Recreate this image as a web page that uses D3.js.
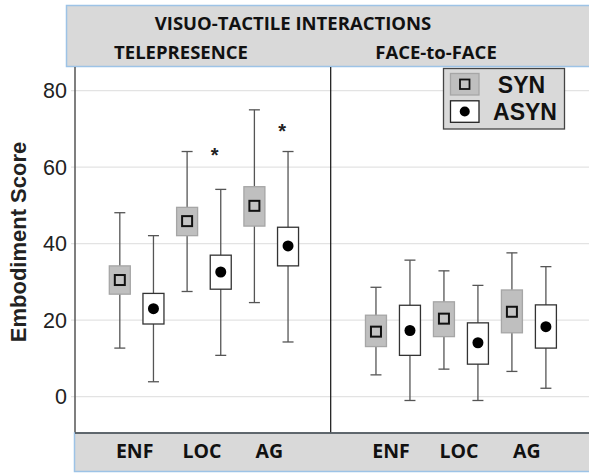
<!DOCTYPE html>
<html>
<head>
<meta charset="utf-8">
<script src="https://cdn.jsdelivr.net/npm/d3@7"></script>
<style>
  body { margin: 0; background: #fff; }
  svg { display: block; }
</style>
</head>
<body>
<div id="chart"></div>
<script>
var width = 589, height = 473;

// data
var panels = ["TELEPRESENCE", "FACE-to-FACE"];
var categories = ["ENF", "LOC", "AG"];
var series = ["SYN", "ASYN"];
var yTicks = [0, 20, 40, 60, 80];

// [low whisker, q1, median, q3, high whisker] for ENF, LOC, AG
var telSyn  = [[12.7, 26.8, 30.5, 34.2, 48.1], [27.5, 42.1, 45.9, 49.5, 64.1], [24.6, 44.6, 49.9, 54.9, 75.0]];
var telAsyn = [[3.9, 19.0, 23.0, 27.0, 42.1], [10.8, 28.1, 32.6, 37.0, 54.2], [14.3, 34.2, 39.4, 44.3, 64.1]];
var ftfSyn  = [[5.7, 13.1, 17.0, 21.3, 28.6], [7.2, 15.7, 20.4, 24.8, 32.9], [6.6, 16.7, 22.2, 27.9, 37.6]];
var ftfAsyn = [[-1.0, 10.8, 17.3, 23.9, 35.7], [-1.0, 8.5, 14.1, 19.3, 29.1], [2.2, 12.7, 18.3, 24.0, 34.0]];

// significance marks: panel index, category, y value
var sigPanel = [0, 0];
var sigCat = ["LOC", "AG"];
var sigValue = [63.7, 70.0];

var boxData = [];
[[telSyn, telAsyn], [ftfSyn, ftfAsyn]].forEach(function (p, pi) {
  p.forEach(function (arr, si) {
    arr.forEach(function (s, ci) {
      boxData.push({ panel: pi, series: series[si], cat: categories[ci],
        lo: s[0], q1: s[1], med: s[2], q3: s[3], hi: s[4] });
    });
  });
});

var plot = { left: 75, right: 589, top: 67, bottom: 433, divider: 330.7 };

var svg = d3.select("#chart").append("svg")
    .attr("width", width)
    .attr("height", height);

var y = d3.scaleLinear().domain([-9.5, 86.2]).range([plot.bottom, plot.top]);

var panelScale = [
  d3.scaleBand().domain(categories).range([plot.left, plot.divider]).paddingOuter(0.4).align(0.52),
  d3.scaleBand().domain(categories).range([plot.divider, plot.right]).paddingOuter(0.4).align(0.52)
];

function xPos(d) {
  var b = panelScale[d.panel];
  var inner = d3.scaleBand().domain(series).range([0, b.bandwidth()]);
  return b(d.cat) + inner(d.series) + inner.bandwidth() / 2;
}

// header box
svg.append("rect")
    .attr("x", 66.5).attr("y", 5.5)
    .attr("width", 540).attr("height", 61)
    .attr("fill", "#d9d9d9")
    .attr("stroke", "#9dc3e6").attr("stroke-width", 1.5);

svg.append("text")
    .attr("x", 293).attr("y", 29.5)
    .attr("text-anchor", "middle")
    .attr("font-family", "'Open Sans', sans-serif")
    .attr("font-weight", "bold").attr("font-size", 18.5)
    .attr("fill", "#111")
    .text("VISUO-TACTILE INTERACTIONS");

var panelLabelX = [181, 436];
svg.selectAll(".panel-label")
    .data(panels)
    .enter().append("text")
    .attr("class", "panel-label")
    .attr("x", function (d, i) { return panelLabelX[i]; })
    .attr("y", 59)
    .attr("text-anchor", "middle")
    .attr("font-family", "'Open Sans', sans-serif")
    .attr("font-weight", "bold").attr("font-size", 18.5)
    .attr("fill", "#111")
    .text(function (d) { return d; });

// gridlines
svg.append("g")
    .selectAll("line")
    .data(yTicks)
    .enter().append("line")
    .attr("x1", plot.left - 4).attr("x2", plot.right)
    .attr("y1", function (d) { return y(d); })
    .attr("y2", function (d) { return y(d); })
    .attr("stroke", "#e3e3e3").attr("stroke-width", 1.2);

// y axis
var yAxis = d3.axisLeft(y).tickValues(yTicks).tickSize(0).tickPadding(8);
var yg = svg.append("g")
    .attr("transform", "translate(" + plot.left + ",0)")
    .call(yAxis);
yg.select(".domain").remove();
yg.selectAll("text")
    .attr("font-family", "Arial, 'Liberation Sans', sans-serif")
    .attr("font-size", 21.5)
    .attr("fill", "#222");

svg.append("line")
    .attr("x1", plot.left).attr("x2", plot.left)
    .attr("y1", plot.top).attr("y2", plot.bottom)
    .attr("stroke", "#555").attr("stroke-width", 1.5);

svg.append("text")
    .attr("transform", "translate(26," + ((plot.top + plot.bottom) / 2 - 8) + ") rotate(-90)")
    .attr("text-anchor", "middle")
    .attr("font-family", "Arial, 'Liberation Sans', sans-serif")
    .attr("font-weight", "bold").attr("font-size", 22)
    .attr("fill", "#222")
    .text("Embodiment Score");

// divider
svg.append("line")
    .attr("x1", plot.divider).attr("x2", plot.divider)
    .attr("y1", plot.top).attr("y2", plot.bottom)
    .attr("stroke", "#111").attr("stroke-width", 1.2);

// boxes
var boxW = 21, capW = 11;
var g = svg.append("g").selectAll("g")
    .data(boxData)
    .enter().append("g");

g.append("line")
    .attr("x1", xPos).attr("x2", xPos)
    .attr("y1", function (d) { return y(d.hi); })
    .attr("y2", function (d) { return y(d.lo); })
    .attr("stroke", "#555").attr("stroke-width", 1.3);

g.selectAll(".cap")
    .data(function (d) { return [d.lo, d.hi].map(function (v) { return { d: d, v: v }; }); })
    .enter().append("line")
    .attr("x1", function (c) { return xPos(c.d) - capW / 2; })
    .attr("x2", function (c) { return xPos(c.d) + capW / 2; })
    .attr("y1", function (c) { return y(c.v); })
    .attr("y2", function (c) { return y(c.v); })
    .attr("stroke", "#555").attr("stroke-width", 1.3);

g.append("rect")
    .attr("x", function (d) { return xPos(d) - boxW / 2; })
    .attr("y", function (d) { return y(d.q3); })
    .attr("width", boxW)
    .attr("height", function (d) { return y(d.q1) - y(d.q3); })
    .attr("fill", function (d) { return d.series === "SYN" ? "#bfbfbf" : "#fff"; })
    .attr("stroke", function (d) { return d.series === "SYN" ? "#a6a6a6" : "#333"; })
    .attr("stroke-width", 1.3);

g.filter(function (d) { return d.series === "SYN"; })
    .append("rect")
    .attr("x", function (d) { return xPos(d) - 5; })
    .attr("y", function (d) { return y(d.med) - 5; })
    .attr("width", 10).attr("height", 10)
    .attr("fill", "#c4c4c4")
    .attr("stroke", "#111").attr("stroke-width", 2);

g.filter(function (d) { return d.series === "ASYN"; })
    .append("circle")
    .attr("cx", xPos)
    .attr("cy", function (d) { return y(d.med); })
    .attr("r", 5.5)
    .attr("fill", "#000");

// significance asterisks
svg.selectAll(".sig")
    .data(sigValue)
    .enter().append("text")
    .attr("class", "sig")
    .attr("x", function (v, i) { return xPos({ panel: sigPanel[i], cat: sigCat[i], series: "ASYN" }) - 6; })
    .attr("y", function (v) { return y(v) + 9; })
    .attr("text-anchor", "middle")
    .attr("font-family", "Arial, 'Liberation Sans', sans-serif")
    .attr("font-weight", "bold").attr("font-size", 20)
    .attr("fill", "#222")
    .text("*");

// bottom category box
svg.append("rect")
    .attr("x", 74.5).attr("y", plot.bottom)
    .attr("width", 530).attr("height", 38.5)
    .attr("fill", "#d9d9d9")
    .attr("stroke", "#9dc3e6").attr("stroke-width", 1.5);

svg.append("line")
    .attr("x1", plot.left).attr("x2", plot.right)
    .attr("y1", plot.bottom).attr("y2", plot.bottom)
    .attr("stroke", "#444").attr("stroke-width", 1.5);

var catLabels = [];
panelScale.forEach(function (s) {
  categories.forEach(function (c) { catLabels.push({ x: s(c) + s.bandwidth() / 2 - 2, c: c }); });
});
svg.selectAll(".cat")
    .data(catLabels)
    .enter().append("text")
    .attr("class", "cat")
    .attr("x", function (d) { return d.x; })
    .attr("y", 458)
    .attr("text-anchor", "middle")
    .attr("font-family", "'Open Sans', sans-serif")
    .attr("font-weight", "bold").attr("font-size", 19.5)
    .attr("fill", "#111")
    .text(function (d) { return d.c; });

// legend
var legend = svg.append("g").attr("transform", "translate(443.5,68.5)");
legend.append("rect")
    .attr("width", 121).attr("height", 60.5)
    .attr("fill", "#d9d9d9")
    .attr("stroke", "#444").attr("stroke-width", 1.3);

var legRows = legend.selectAll(".row")
    .data(series)
    .enter().append("g")
    .attr("transform", function (d, i) { return "translate(7," + (5 + i * 27.3) + ")"; });

legRows.append("rect")
    .attr("width", 28.5).attr("height", 21.5)
    .attr("fill", function (d) { return d === "SYN" ? "#bfbfbf" : "#fff"; })
    .attr("stroke", function (d) { return d === "SYN" ? "#a6a6a6" : "#222"; })
    .attr("stroke-width", 1.3);

legRows.filter(function (d) { return d === "SYN"; })
    .append("rect")
    .attr("x", 9.5).attr("y", 6).attr("width", 9.5).attr("height", 9.5)
    .attr("fill", "#c4c4c4").attr("stroke", "#111").attr("stroke-width", 1.8);

legRows.filter(function (d) { return d === "ASYN"; })
    .append("circle")
    .attr("cx", 14.25).attr("cy", 10.75).attr("r", 5)
    .attr("fill", "#000");

legRows.append("text")
    .attr("x", function (d) { return d === "SYN" ? 71 : 74.5; })
    .attr("y", 19)
    .attr("text-anchor", "middle")
    .attr("font-family", "Arial, 'Liberation Sans', sans-serif")
    .attr("font-weight", "bold").attr("font-size", 23)
    .attr("fill", "#111")
    .text(function (d) { return d; });
</script>
</body>
</html>
